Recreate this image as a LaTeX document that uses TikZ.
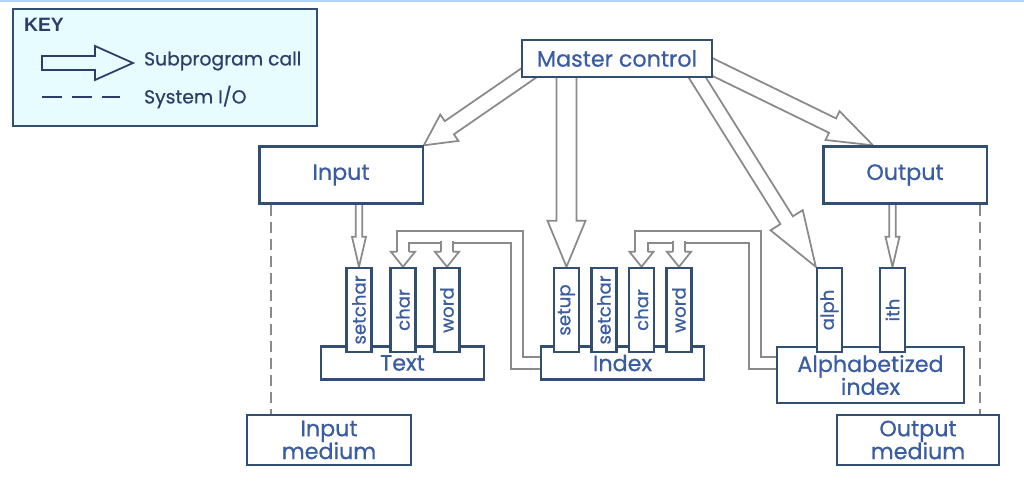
\documentclass[tikz,border=0pt]{standalone}
\usepackage{fontspec}
\newfontfamily\lblfamily{Poppins}[FakeBold=0.6]
\newfontfamily\keyfamily{Liberation Sans}
\newcommand{\lblfnt}{\lblfamily\fontsize{19}{19.5}\selectfont}
\newcommand{\keyfnt}{\lblfamily\fontsize{16}{17}\selectfont}
\newcommand{\smallfnt}{\lblfamily\fontsize{15.5}{16}\selectfont}
\usetikzlibrary{calc,backgrounds}

\definecolor{boxline}{RGB}{50,78,112}
\definecolor{labelblue}{RGB}{58,92,160}
\definecolor{keytext}{RGB}{42,62,105}
\definecolor{pipegray}{RGB}{138,138,138}
\definecolor{keyfill}{RGB}{230,252,255}
\definecolor{topstrip}{RGB}{178,212,248}

% outlined call arrow: [opts]{from}{to}{half shaft}{half head}{head length}
\newcommand{\callarrow}[6][]{%
  \draw[callline,#1] ($(#2)!#4!90:(#3)$)
    -- ($(#3)!#6!(#2)!#4!-90:(#2)$)
    -- ($(#3)!#6!(#2)!#5!-90:(#2)$)
    -- (#3)
    -- ($(#3)!#6!(#2)!#5!90:(#2)$)
    -- ($(#3)!#6!(#2)!#4!90:(#2)$)
    -- ($(#2)!#4!-90:(#3)$) -- cycle;}
% head of a piped call, pointing down onto #1
\newcommand{\pipehead}[1]{%
  \draw[pipetip] ($(#1)+(-6.2,-15)$) -- ($(#1)+(-12,-15)$) -- (#1)
    -- ($(#1)+(12,-15)$) -- ($(#1)+(6.2,-15)$);}

\begin{document}
\begin{tikzpicture}[x=0.03cm, y=-0.03cm, line join=miter,
  every node/.style={font=\lblfnt, text=labelblue},
  modbox/.style={draw=boxline, line width=2pt, fill=white, inner sep=0pt, align=center},
  subbox/.style={draw=boxline, line width=2pt, fill=white, minimum width=0.75cm, minimum height=2.52cm, inner sep=0pt, font=\smallfnt},
  callline/.style={draw=pipegray, line width=1.5pt, fill=white},
  pipe/.style={draw=pipegray, line width=1.5pt, double=white, double distance=9pt},
  pipetip/.style={draw=pipegray, line width=1.5pt, fill=white},
  sysio/.style={draw=pipegray, line width=1.7pt, dash pattern=on 0.33cm off 0.18cm}]

	\useasboundingbox (0,0) rectangle (1024,484);
	\fill[topstrip] (0,0) rectangle (1024,2);

	% Modules
	\node[modbox, minimum width=5.7cm, minimum height=1.11cm] (mc) at (617,58.5) {Master control};
	\node[modbox, minimum width=4.9cm, minimum height=1.71cm] (in) at (341,175) {Input};
	\node[modbox, minimum width=4.9cm, minimum height=1.71cm] (out) at (905,175) {Output};
	\node[modbox, minimum width=4.89cm, minimum height=1cm] (txt) at (402.5,363) {Text};
	\node[modbox, minimum width=4.89cm, minimum height=1cm] (idx) at (622.5,363) {Index};
	\node[modbox, minimum width=5.61cm, minimum height=1.68cm] (aidx) at (870.5,375) {Alphabetized\\index};
	\node[modbox, minimum width=4.92cm, minimum height=1.5cm] (inm) at (329,440) {Input\\medium};
	\node[modbox, minimum width=4.86cm, minimum height=1.5cm] (outm) at (918,440) {Output\\medium};

	% Subprograms
	\foreach \name/\x/\lbl in {setchar1/359/setchar, char1/403/char, word1/447/word,
	    setup/566.5/setup, setchar2/604/setchar, char2/641.5/char, word2/679/word,
	    alph/829.5/alph, ith/892.5/ith}
	  \node[subbox] (\name) at (\x,310) {\rotatebox{90}{\lbl}};

	% Key
	\draw[draw=boxline, line width=2pt, fill=keyfill] (13,9) rectangle (317,126);
	\node[anchor=west, font=\keyfamily\bfseries\fontsize{16.5}{18}\selectfont, text=keytext] (key) at (20,25) {KEY};
	\coordinate (ka) at (42,63);
	\coordinate (kb) at (133,63);
	\callarrow[draw=keytext, fill=keyfill]{ka}{kb}{0.21cm}{0.51cm}{1.14cm}
	\node[anchor=west, font=\keyfnt, text=keytext] (kcall) at (140,61) {Subprogram call};
	\coordinate (kc) at (42,97);
	\coordinate (kd) at (120,97);
	\draw[keytext, line width=1.5pt, dash pattern=on 0.6cm off 0.3cm] (kc) -- (kd);
	\node[anchor=west, font=\keyfnt, text=keytext] (kio) at (140,97) {System I/O};

	\begin{pgfonlayer}{background}
	% Calls from master control
	\coordinate (mcin) at ($(mc.south west)+(12,-8)$);
	\coordinate (mcsetup) at (setup.north |- mc.center);
	\coordinate (mcalph) at ($(mc.south east)+(-18,-4)$);
	\coordinate (mcout) at ($(mc.east)+(-12,3)$);
	\coordinate (outtip) at ($(out.north)+(-32,0)$);
	\callarrow{mcin}{in.north east}{0.24cm}{0.48cm}{0.93cm}
	\callarrow{mcsetup}{setup.north}{0.3cm}{0.57cm}{1.38cm}
	\callarrow{mcalph}{alph.north west}{0.22cm}{0.57cm}{1.65cm}
	\callarrow{mcout}{outtip}{0.24cm}{0.48cm}{1.35cm}

	% Input and Output calls
	\coordinate (insc) at (setchar1.north |- in.center);
	\coordinate (outith) at (ith.north |- out.center);
	\callarrow{insc}{setchar1.north}{0.1cm}{0.21cm}{0.9cm}
	\callarrow{outith}{ith.north}{0.1cm}{0.21cm}{0.9cm}

	% Index calls Text
	\coordinate (tbend) at (517,237);
	\draw[pipe] (idx.west) -| (tbend) -| ($(char1.north)+(0,-15)$);
	\draw[pipe] ($(word1.north)+(0,-26)$) -- ($(word1.north)+(0,-15)$);
	\pipehead{char1.north}
	\pipehead{word1.north}

	% Alphabetized index calls Index
	\coordinate (ibend) at (755,237);
	\draw[pipe] (aidx.west |- idx.west) -| (ibend) -| ($(char2.north)+(0,-15)$);
	\draw[pipe] ($(word2.north)+(0,-26)$) -- ($(word2.north)+(0,-15)$);
	\pipehead{char2.north}
	\pipehead{word2.north}

	% System I/O
	\coordinate (inio) at ($(in.south west)+(12.7,0)$);
	\coordinate (outio) at ($(out.south east)+(-8,0)$);
	\draw[sysio] (inio) -- (inio |- inm.north);
	\draw[sysio] (outio) -- (outio |- outm.north);
	\end{pgfonlayer}

\end{tikzpicture}
\end{document}
